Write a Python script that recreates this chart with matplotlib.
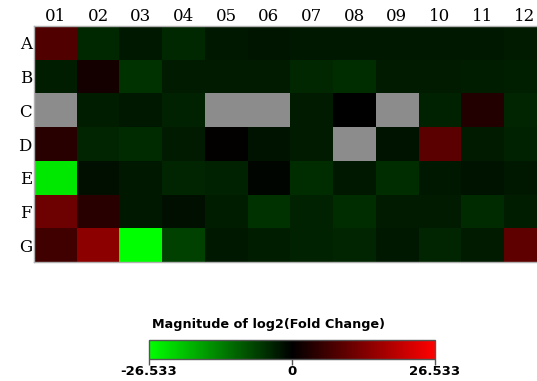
import numpy as np
import matplotlib.pyplot as plt
from matplotlib.colors import LinearSegmentedColormap, Normalize
from matplotlib.cm import ScalarMappable

# ── Data: log2 fold change per well (NaN = no data, drawn grey) ─────────────
ROWS = ['A', 'B', 'C', 'D', 'E', 'F', 'G']
COLS = ['01', '02', '03', '04', '05', '06', '07', '08', '09', '10', '11', '12']
VMAX = 26.533

row_A = [8.3, -4.2, -2.6, -4.2, -2.3, -2.1, -2.6, -2.6, -2.3, -2.6, -2.3, -2.9]
row_B = [-3.1, 2.1, -5.2, -2.9, -2.9, -2.9, -4.0, -4.7, -2.9, -2.9, -3.1, -3.3]
row_C = [np.nan, -3.1, -2.3, -3.6, np.nan, np.nan, -2.9, 0.1, np.nan, -3.6, 3.6, -3.9]
row_D = [4.2, -3.9, -4.4, -2.9, 0.3, -1.9, -2.9, np.nan, -1.9, 9.4, -2.9, -3.6]
row_E = [-24.0, -1.5, -2.6, -3.9, -3.6, -0.5, -4.7, -2.6, -4.7, -2.6, -1.9, -2.3]
row_F = [11.4, 4.2, -2.3, -1.5, -3.1, -5.2, -3.6, -4.7, -2.9, -2.9, -4.4, -3.1]
row_G = [6.8, 14.6, -26.533, -6.8, -2.6, -3.1, -3.6, -3.9, -2.6, -3.9, -2.9, 9.9]

data = np.array([row_A, row_B, row_C, row_D, row_E, row_F, row_G])

# green -> black -> red
cmap = LinearSegmentedColormap.from_list('gbr', ['#00ff00', '#000000', '#ff0000'])
cmap.set_bad('#8c8c8c')
norm = Normalize(vmin=-VMAX, vmax=VMAX)

fig = plt.figure(figsize=(5.37, 3.81), dpi=100)

# heatmap runs past the right edge like the original screenshot
ax = fig.add_axes([0.0633, 0.3123, 0.954, 0.6194])
ax.imshow(np.ma.masked_invalid(data), cmap=cmap, norm=norm,
          aspect='auto', interpolation='nearest')
ax.set_xticks(np.arange(len(COLS)))
ax.set_xticklabels(COLS, family='DejaVu Serif', fontsize=12)
ax.set_yticks(np.arange(len(ROWS)))
ax.set_yticklabels(ROWS, family='DejaVu Serif', fontsize=12)
ax.xaxis.tick_top()
ax.tick_params(axis='x', length=0, pad=0.5)
ax.tick_params(axis='y', length=0, pad=1.5)
for s in ax.spines.values():
    s.set_color('#b0b0b0')
    s.set_linewidth(1.0)

# colour bar
cax = fig.add_axes([0.2775, 0.0577, 0.5326, 0.0499])
cb = fig.colorbar(ScalarMappable(norm=norm, cmap=cmap), cax=cax,
                  orientation='horizontal')
cb.set_ticks([-VMAX, 0, VMAX])
cb.set_ticklabels(['-26.533', '0', '26.533'])
cb.outline.set_edgecolor('#555555')
cb.outline.set_linewidth(1.0)
cax.tick_params(length=4, width=1, color='#555555', pad=0, labelsize=9.5)
for t in cax.get_xticklabels():
    t.set_fontweight('bold')
fig.text(0.5, 0.147, 'Magnitude of log2(Fold Change)', ha='center', va='center',
         fontsize=9.2, fontweight='bold')

fig.savefig('out.png', dpi=100)
